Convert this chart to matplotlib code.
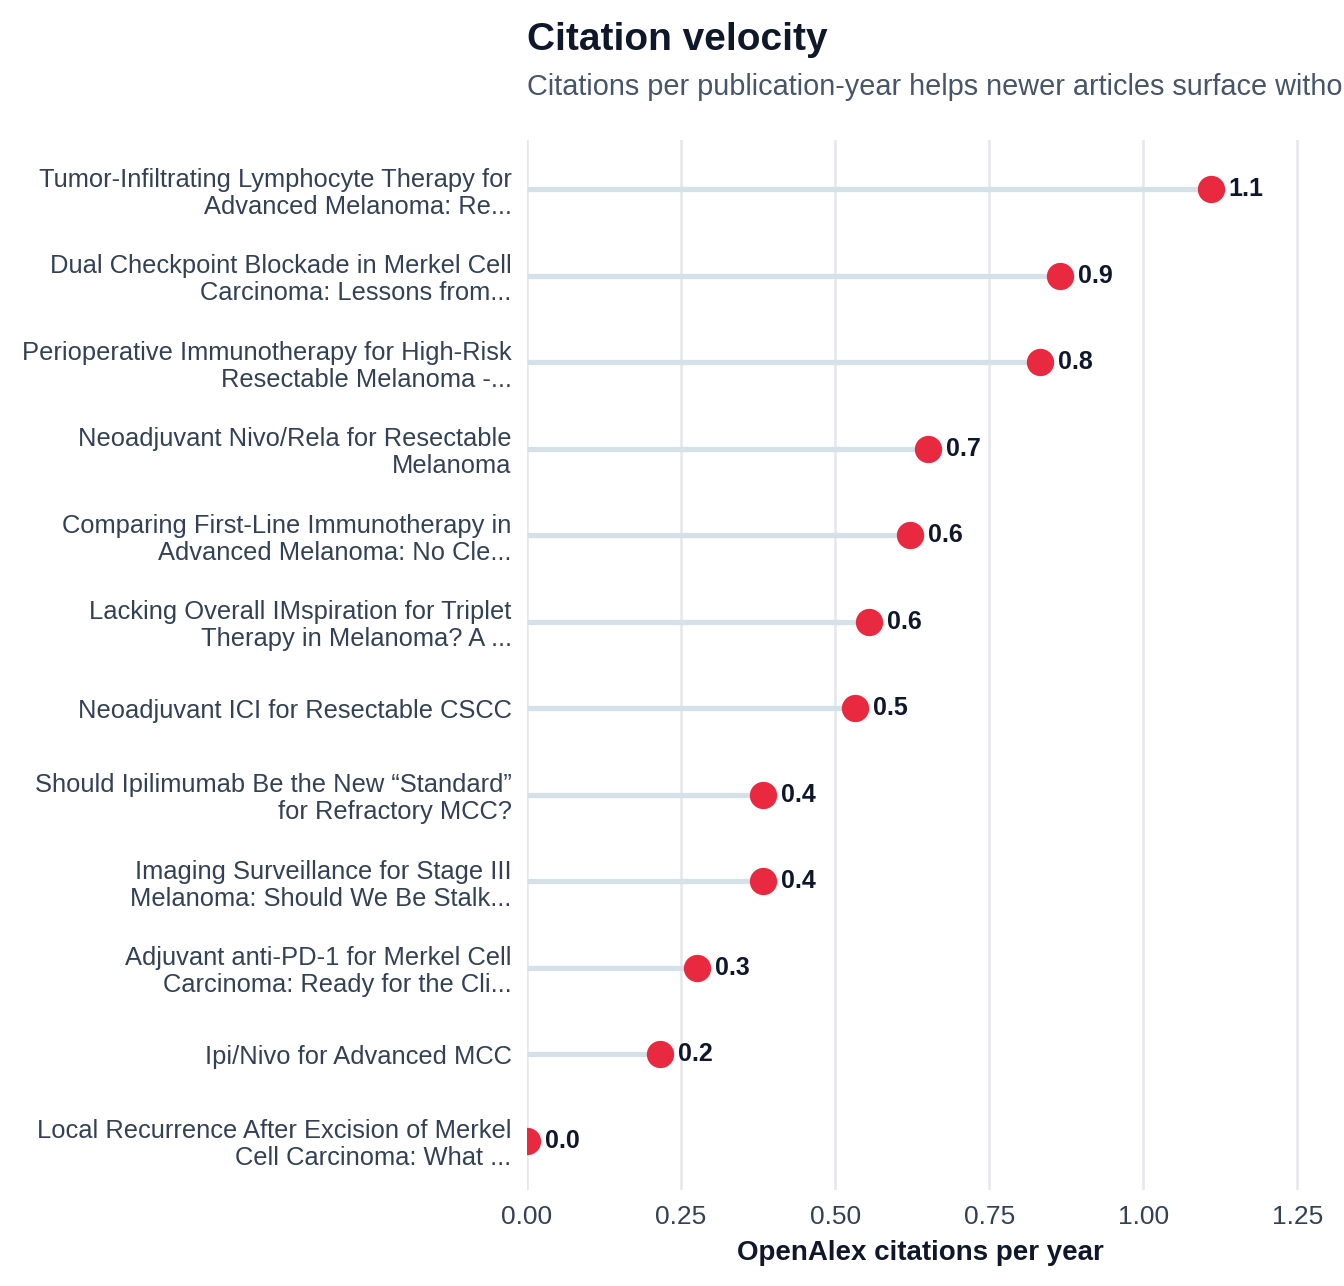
import matplotlib.pyplot as plt

# articles, top to bottom
titles = [
    "Tumor-Infiltrating Lymphocyte Therapy for\nAdvanced Melanoma: Re...",
    "Dual Checkpoint Blockade in Merkel Cell\nCarcinoma: Lessons from...",
    "Perioperative Immunotherapy for High-Risk\nResectable Melanoma -...",
    "Neoadjuvant Nivo/Rela for Resectable\nMelanoma",
    "Comparing First-Line Immunotherapy in\nAdvanced Melanoma: No Cle...",
    "Lacking Overall IMspiration for Triplet\nTherapy in Melanoma? A ...",
    "Neoadjuvant ICI for Resectable CSCC",
    "Should Ipilimumab Be the New \u201cStandard\u201d\nfor Refractory MCC?",
    "Imaging Surveillance for Stage III\nMelanoma: Should We Be Stalk...",
    "Adjuvant anti-PD-1 for Merkel Cell\nCarcinoma: Ready for the Cli...",
    "Ipi/Nivo for Advanced MCC",
    "Local Recurrence After Excision of Merkel\nCell Carcinoma: What ...",
]
# citations per year
velocity = [1.109, 0.865, 0.833, 0.651, 0.622, 0.555, 0.532, 0.383, 0.383, 0.276, 0.216, 0.0]

plt.rcParams['font.family'] = ['Liberation Sans', 'DejaVu Sans']

fig = plt.figure(figsize=(6.72, 6.43), dpi=200)
ax = fig.add_axes([0.392, 0.0747, 0.585, 0.8163])

ypos = list(range(len(titles)))[::-1]

ax.hlines(ypos, 0, velocity, color='#d5e1e9', linewidth=1.9, zorder=2)
ax.scatter(velocity, ypos, s=78, color='#e8293f', zorder=3, clip_on=True)
for v, y in zip(velocity, ypos):
    ax.annotate(f"{v:.1f}", (v, y), xytext=(6.5, 0), textcoords='offset points',
                ha='left', va='center', fontsize=9, fontweight='bold',
                color='#0f172a', annotation_clip=False)

ax.set_xlim(0, max(velocity) * 1.15)
ax.set_ylim(-0.57, len(titles) - 1 + 0.57)
ax.set_xticks([0, 0.25, 0.5, 0.75, 1.0, 1.25])
ax.set_xticklabels(["0.00", "0.25", "0.50", "0.75", "1.00", "1.25"])
ax.set_yticks(ypos)
ax.set_yticklabels(titles, linespacing=1.15)

ax.grid(axis='x', color='#e5e7eb', linewidth=0.9, zorder=0)
ax.set_axisbelow(True)
for s in ax.spines.values():
    s.set_visible(False)
ax.tick_params(axis='both', length=0, labelcolor='#334155')
ax.tick_params(axis='y', pad=5.5, labelsize=9.2)
ax.tick_params(axis='x', pad=5.5, labelsize=9.5)

ax.set_xlabel("OpenAlex citations per year", fontsize=10, fontweight='bold',
              color='#0f172a', labelpad=4)

fig.text(0.392, 0.961, "Citation velocity", fontsize=14, fontweight='bold',
         color='#0f172a', va='baseline', ha='left')
fig.text(0.392, 0.926,
         "Citations per publication-year helps newer articles surface without waiting for raw counts to accumulate.",
         fontsize=10.4, color='#475569', va='baseline', ha='left')

fig.savefig("out.png", dpi=200)
